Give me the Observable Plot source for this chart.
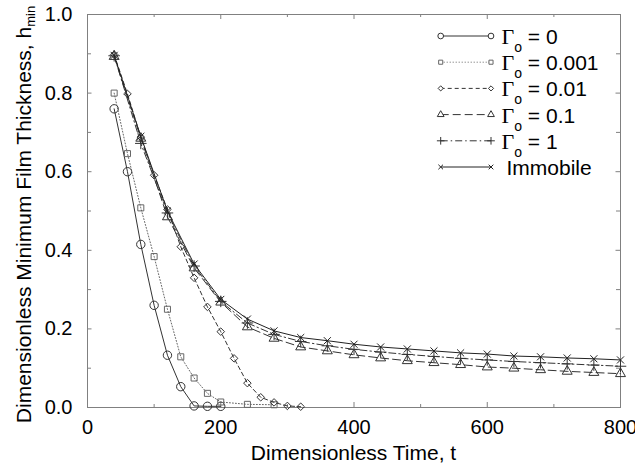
<!DOCTYPE html>
<html><head><meta charset="utf-8">
<script src="https://cdn.jsdelivr.net/npm/d3@7"></script>
<script src="https://cdn.jsdelivr.net/npm/@observablehq/plot@0.6"></script>
<style>
body{margin:0;background:#fff;}
#chart{position:relative;width:635px;height:465px;}
</style></head><body><div id="chart"></div>
<script>
// ---- data ----
const seriesKeys = ["g0", "g0001", "g001", "g01", "g1", "imm"];
const seriesSub = ["0", "0.001", "0.01", "0.1", "1", null];

const tG0 = [40, 60, 80, 100, 120, 140, 160, 180, 200];
const hG0 = [0.76, 0.60, 0.415, 0.26, 0.133, 0.053, 0.004, 0.003, 0.003];

const tG0001 = [40, 60, 80, 100, 120, 140, 160, 180, 200, 240, 280];
const hG0001 = [0.80, 0.646, 0.508, 0.384, 0.25, 0.129, 0.075, 0.036, 0.014, 0.008, 0.007];

const tG001 = [40, 60, 80, 100, 120, 140, 160, 180, 200, 220, 240, 260, 280, 300, 320];
const hG001 = [0.898, 0.798, 0.688, 0.591, 0.504, 0.409, 0.330, 0.256, 0.193, 0.125, 0.062, 0.026, 0.013, 0.004, 0.002];

const tLong = [40, 80, 120, 160, 200, 240, 280, 320, 360, 400, 440, 480, 520, 560, 600, 640, 680, 720, 760, 800];
const hG01 = [0.893, 0.685, 0.485, 0.355, 0.268, 0.205, 0.176, 0.154, 0.144, 0.134, 0.126, 0.119, 0.114, 0.109, 0.103, 0.100, 0.096, 0.092, 0.089, 0.086];
const hG1  = [0.895, 0.672, 0.495, 0.360, 0.270, 0.215, 0.186, 0.168, 0.157, 0.148, 0.141, 0.135, 0.130, 0.125, 0.121, 0.117, 0.114, 0.111, 0.108, 0.105];
const hImm = [0.896, 0.690, 0.500, 0.365, 0.275, 0.225, 0.195, 0.178, 0.170, 0.161, 0.154, 0.149, 0.144, 0.139, 0.136, 0.131, 0.129, 0.126, 0.124, 0.121];

const xTickLabels = [0, 200, 400, 600, 800];
const xMinorTicks = [100, 300, 500, 700];
const yTickLabels = [0, 0.2, 0.4, 0.6, 0.8, 1.0];
const yMinorTicks = [0.1, 0.3, 0.5, 0.7, 0.9];

// ---- styles ----
const styles = {
  g0:    {symbol: "circle",   r: 4.2, dash: null,        color: "#333"},
  g0001: {symbol: "square",   r: 3.4, dash: "1,2",       color: "#666"},
  g001:  {symbol: "diamond2", r: 3.4, dash: "4,3",       color: "#333"},
  g01:   {symbol: "triangle", r: 3.7, dash: "8,4",       color: "#333"},
  g1:    {symbol: "plus",     r: 3.8, dash: "7,3,1.5,3", color: "#333"},
  imm:   {symbol: "times",    r: 3.3, dash: null,        color: "#222"}
};

const seriesData = {
  g0: tG0.map((t, i) => ({t, h: hG0[i]})),
  g0001: tG0001.map((t, i) => ({t, h: hG0001[i]})),
  g001: tG001.map((t, i) => ({t, h: hG001[i]})),
  g01: tLong.map((t, i) => ({t, h: hG01[i]})),
  g1: tLong.map((t, i) => ({t, h: hG1[i]})),
  imm: tLong.map((t, i) => ({t, h: hImm[i]}))
};

const W = 635, H = 465;
const mL = 87, mR = 15, mT = 14, mB = 58;
const innerW = W - mL - mR, innerH = H - mT - mB;
const axisColor = "#808080";

const marks = [];
const tk = {stroke: axisColor, strokeWidth: 1};
marks.push(Plot.tickX(xTickLabels, {x: d => d, insetTop: innerH - 5, ...tk}));
marks.push(Plot.tickX(xMinorTicks, {x: d => d, insetTop: innerH - 3, ...tk}));
marks.push(Plot.tickX(xTickLabels, {x: d => d, insetBottom: innerH - 5, ...tk}));
marks.push(Plot.tickX(xMinorTicks, {x: d => d, insetBottom: innerH - 3, ...tk}));
marks.push(Plot.tickY(yTickLabels, {y: d => d, insetRight: innerW - 4.5, ...tk}));
marks.push(Plot.tickY(yMinorTicks, {y: d => d, insetRight: innerW - 4, ...tk}));
marks.push(Plot.tickY(yTickLabels, {y: d => d, insetLeft: innerW - 4.5, ...tk}));
marks.push(Plot.tickY(yMinorTicks, {y: d => d, insetLeft: innerW - 4, ...tk}));
marks.push(Plot.frame({stroke: axisColor, strokeWidth: 1}));

for (const k of seriesKeys) {
  const s = styles[k];
  marks.push(Plot.line(seriesData[k], {x: "t", y: "h", stroke: s.color, strokeWidth: 1, strokeDasharray: s.dash}));
  marks.push(Plot.dot(seriesData[k], {x: "t", y: "h", symbol: () => s.symbol, r: s.r, stroke: s.color, strokeWidth: 1, fill: "none"}));
}

marks.push(Plot.axisX(xTickLabels, {tickSize: 0, tickPadding: 12, tickFormat: d => String(d), label: null}));
marks.push(Plot.axisY(yTickLabels, {tickSize: 0, tickPadding: 15, tickFormat: d => d.toFixed(1), label: null}));

const svg = Plot.plot({
  width: W, height: H,
  marginLeft: mL, marginRight: mR, marginTop: mT, marginBottom: mB,
  x: {domain: [0, 800], label: null},
  y: {domain: [0, 1], label: null},
  symbol: {type: "identity"},
  style: {fontFamily: "'Liberation Sans', Arial, Helvetica, sans-serif", fontSize: "20px", color: "#000", background: "#fff", overflow: "visible"},
  marks
});

const root = d3.select(svg);
const font = "'Liberation Sans', Arial, Helvetica, sans-serif";

// axis titles
root.append("text")
  .attr("x", mL + innerW / 2).attr("y", 460)
  .attr("text-anchor", "middle")
  .attr("font-family", font).attr("font-size", 21).attr("fill", "#000")
  .text("Dimensionless Time, t");

const yt = root.append("text")
  .attr("transform", `translate(31,214.5) rotate(-90)`)
  .attr("text-anchor", "middle")
  .attr("font-family", font).attr("font-size", 21).attr("fill", "#000");
yt.append("tspan").text("Dimensionless Minimum Film Thickness, h");
yt.append("tspan").attr("font-size", 13).attr("dy", 3.5).text("min");

// legend
const lg = root.append("g").attr("text-anchor", "start");
const rowY0 = 36, rowStep = 26.2, xa = 440.7, xb = 491, xText = 501.5;
const symMap = {circle: d3.symbolCircle, square: d3.symbolSquare, diamond2: d3.symbolDiamond2, triangle: d3.symbolTriangle, plus: d3.symbolPlus, times: d3.symbolTimes};
seriesKeys.forEach((k, i) => {
  const s = styles[k];
  const y = rowY0 + i * rowStep;
  lg.append("line").attr("x1", xa).attr("x2", xb).attr("y1", y).attr("y2", y)
    .attr("stroke", s.color).attr("stroke-width", 1).attr("stroke-dasharray", s.dash);
  const r = s.r * 0.68;
  const path = d3.symbol(symMap[s.symbol], Math.PI * r * r)();
  for (const x of [xa, xb]) {
    lg.append("path").attr("d", path).attr("transform", `translate(${x},${y})`)
      .attr("fill", "#fff").attr("stroke", s.color).attr("stroke-width", 1);
  }
  const isImm = seriesSub[i] === null;
  const t = lg.append("text").attr("x", isImm ? xText + 5 : xText).attr("y", y + 8)
    .attr("text-anchor", "start")
    .attr("font-family", font).attr("font-size", 21).attr("fill", "#000")
    .style("white-space", "pre");
  if (isImm) {
    t.text("Immobile");
  } else {
    t.append("tspan").attr("font-family", "'Liberation Serif', 'Times New Roman', serif").attr("font-size", 22).text("Γ");
    t.append("tspan").attr("font-size", 14).attr("dy", 8).text("o");
    t.append("tspan").attr("dy", -8).text("\u00a0= " + seriesSub[i]);
  }
});

document.getElementById("chart").appendChild(svg);
</script>
</body></html>
